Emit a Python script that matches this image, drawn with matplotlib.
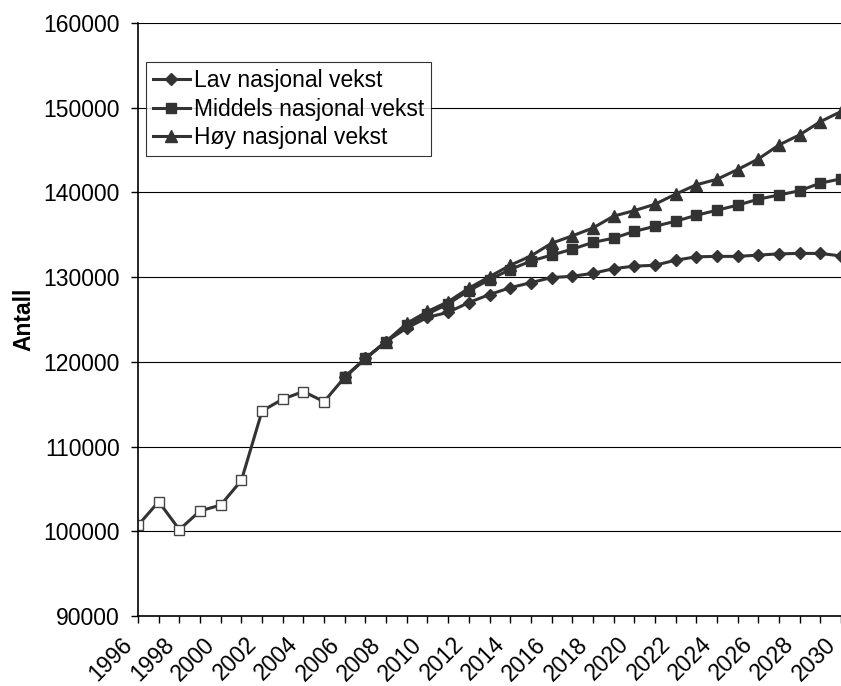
import matplotlib.pyplot as plt
from matplotlib.transforms import ScaledTranslation

plt.rcParams['font.family'] = ['Liberation Sans', 'DejaVu Sans']

# Data
years = list(range(1996, 2031))
hist_years = list(range(1996, 2007))
historisk = [100700, 103500, 100200, 102400, 103100, 106000,
             114200, 115600, 116500, 115300, 118200]

proj_years = list(range(2006, 2031))
lav = [118200, 120400, 122400, 124000, 125250, 125850, 127000, 127950,
       128750, 129350, 129950, 130100, 130450, 131000, 131300, 131400,
       132000, 132400, 132450, 132450, 132600, 132750, 132800, 132800, 132500]
middels = [118200, 120400, 122400, 124300, 125650, 126850, 128400, 129700,
           130900, 131900, 132600, 133300, 134100, 134600, 135400, 136000,
           136600, 137300, 137900, 138500, 139200, 139700, 140200, 141100, 141600]
hoy = [118200, 120400, 122400, 124550, 125950, 127100, 128700, 130050,
       131400, 132500, 134000, 134870, 135800, 137200, 137850, 138600,
       139800, 140900, 141550, 142700, 143950, 145600, 146800, 148350, 149550]

labels = ['Lav nasjonal vekst', 'Middels nasjonal vekst', 'Høy nasjonal vekst']

col = '#333333'
fs = 16.5


def pos(ys):
    return [y - years[0] for y in ys]


fig = plt.figure(figsize=(8.41, 6.86), dpi=100)
ax = fig.add_axes([138 / 841, 70 / 686, 1 - 138 / 841, 593 / 686])

# horizontal gridlines
for v in range(100000, 160001, 10000):
    ax.axhline(v, color='black', lw=0.8, zorder=0)

ax.plot(pos(hist_years), historisk, color=col, lw=2.2, marker='s', ms=7,
        mfc='white', mec='#444444', mew=1.0, zorder=2)
ax.plot(pos(proj_years), lav, color=col, lw=2.2, marker='D', ms=6.5,
        mfc=col, mec=col, label=labels[0], zorder=3)
ax.plot(pos(proj_years), hoy, color=col, lw=2.2, marker='^', ms=8.5,
        mfc=col, mec=col, label=labels[2], zorder=3)
ax.plot(pos(proj_years), middels, color=col, lw=2.2, marker='s', ms=7.5,
        mfc=col, mec=col, label=labels[1], zorder=4)

ax.set_xlim(0, 33.85)
ax.set_ylim(90000, 160000)
ax.set_yticks(range(90000, 160001, 10000))
ax.set_yticklabels([str(v) for v in range(90000, 160001, 10000)])

ax.set_xticks(range(len(years)))
ax.set_xticklabels([str(y) if (y - 1996) % 2 == 0 else '' for y in years],
                   rotation=45, ha='right', va='center', rotation_mode='anchor')

ax.tick_params(axis='both', labelsize=fs, direction='out', length=5,
               width=1, color='black')
ax.tick_params(axis='y', pad=8)
ax.tick_params(axis='x', pad=13)

# shift the rotated year labels a little to the left, as in the reference
shift = ScaledTranslation(-9 / 100, 0, fig.dpi_scale_trans)
for lab in ax.get_xticklabels():
    lab.set_transform(lab.get_transform() + shift)

for s in ['top', 'right']:
    ax.spines[s].set_visible(False)
for s in ['left', 'bottom']:
    ax.spines[s].set_linewidth(1.2)
    ax.spines[s].set_color('black')

ax.set_ylabel('Antall', fontsize=fs, fontweight='bold', labelpad=6)

h, l = ax.get_legend_handles_labels()
order = [l.index(x) for x in labels]
leg = ax.legend([h[i] for i in order], [l[i] for i in order],
                loc='upper left', bbox_to_anchor=(146 / 841, 1 - 62 / 686),
                bbox_transform=fig.transFigure, borderaxespad=0,
                fontsize=fs, frameon=True, fancybox=False, shadow=False,
                handlelength=1.6, handletextpad=0.2, labelspacing=0.25,
                borderpad=0.3)
leg.get_frame().set_edgecolor('black')
leg.get_frame().set_linewidth(0.8)
leg.set_zorder(10)

fig.savefig('out.png', dpi=100)
